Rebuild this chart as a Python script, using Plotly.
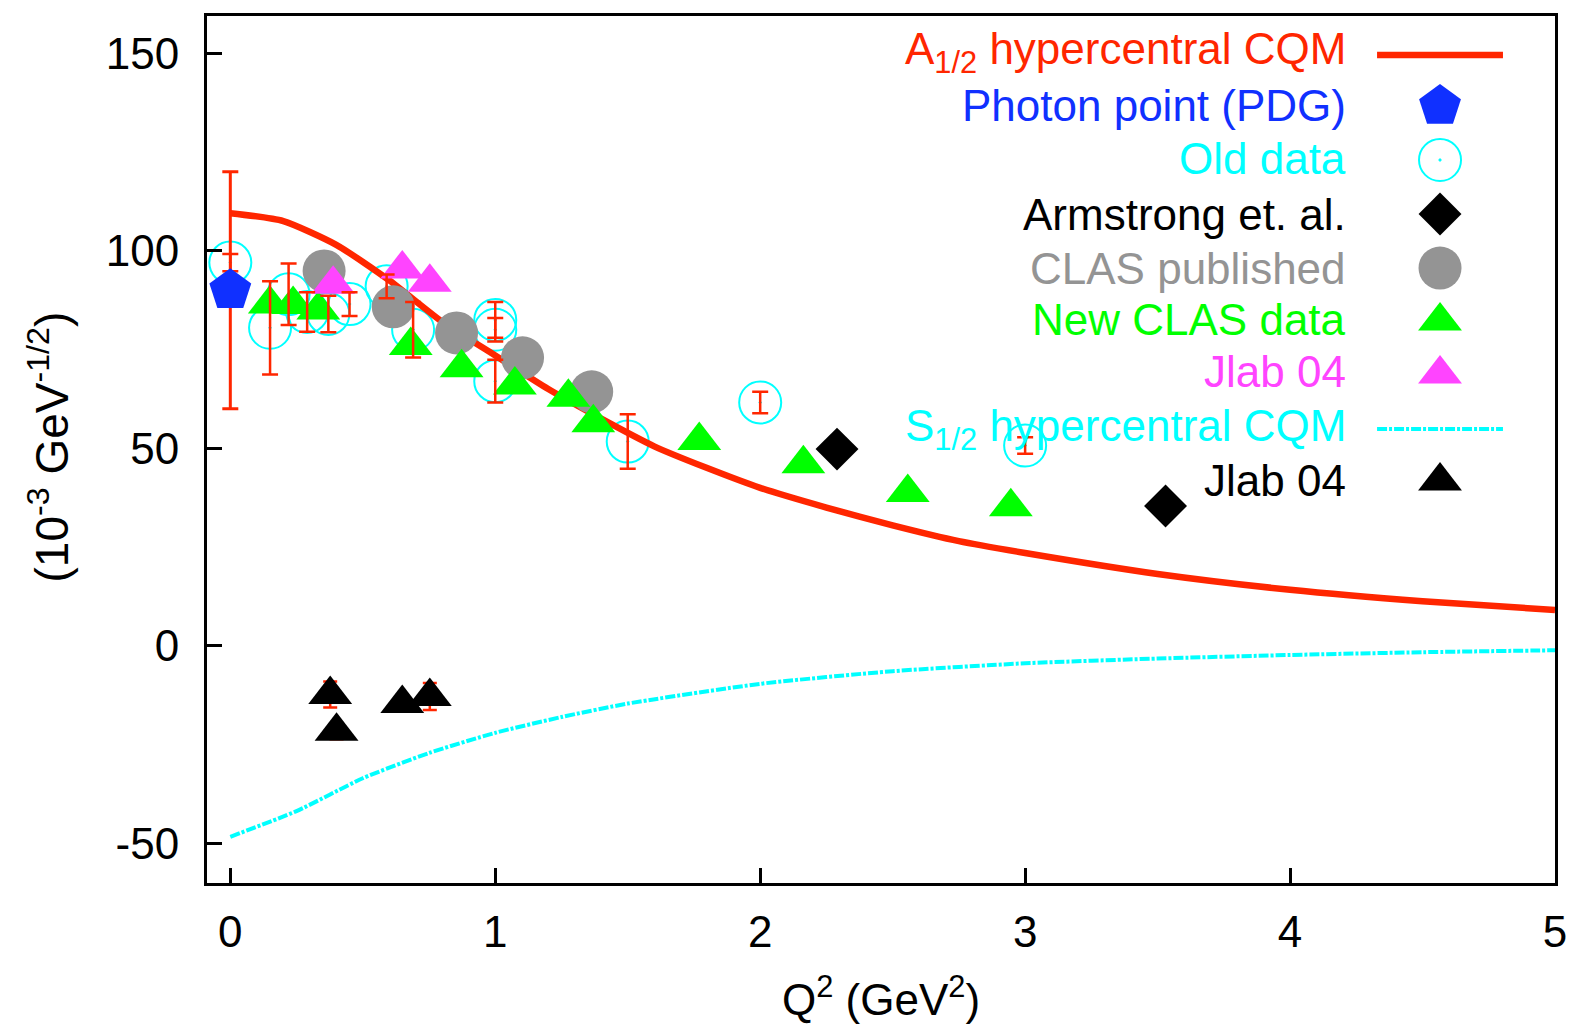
import plotly.graph_objects as go

# ---------------- data ----------------
# A1/2 hypercentral CQM prediction
A12_Q2 = [0.0, 0.2, 0.4, 0.6, 0.8, 1.0, 1.2, 1.4, 1.6, 1.8, 2.0, 2.25, 2.5, 2.75, 3.0, 3.5, 4.0, 4.5, 5.0]
A12 = [109.5, 107.5, 101.5, 92.5, 82.0, 73.5, 65.0, 57.5, 50.5, 45.0, 40.0, 35.0, 30.5, 26.5, 23.5, 18.2, 14.2, 11.3, 9.1]

# S1/2 hypercentral CQM prediction
S12_Q2 = [0.0, 0.25, 0.5, 0.75, 1.0, 1.25, 1.5, 2.0, 2.5, 3.0, 3.5, 4.0, 4.5, 5.0]
S12 = [-48.3, -41.8, -33.5, -27.1, -22.0, -18.0, -14.6, -9.6, -6.4, -4.4, -3.2, -2.3, -1.6, -1.1]

# Photon point (PDG)
PDG_Q2 = [0.0]
PDG = [90.0]
PDG_ERR = [30.0]

# Old data
OLD_Q2 = [0.0, 0.15, 0.22, 0.29, 0.37, 0.45, 0.59, 0.69, 1.0, 1.0, 1.0, 1.5, 2.0, 3.0]
OLD = [97.0, 80.5, 89.0, 84.5, 84.0, 86.5, 91.0, 80.0, 82.5, 80.0, 67.0, 51.7, 61.6, 50.7]
OLD_ERR = [2.2, 11.8, 7.8, 5.0, 4.6, 3.0, 3.0, 7.0, 4.5, 3.0, 5.4, 6.9, 2.7, 2.1]

# Armstrong et. al.
ARM_Q2 = [2.29, 3.53]
ARM = [49.8, 35.4]

# CLAS published
CLASP_Q2 = [0.354, 0.615, 0.854, 1.103, 1.364]
CLASP = [94.9, 85.8, 79.2, 72.9, 64.3]

# New CLAS data
CLASN_Q2 = [0.149, 0.237, 0.332, 0.681, 0.873, 1.074, 1.276, 1.37, 1.77, 2.163, 2.557, 2.946]
CLASN = [86.5, 86.4, 85.0, 76.0, 70.4, 66.0, 62.9, 56.5, 52.0, 46.1, 38.8, 35.2]

# Jlab 04 (A1/2)
JLA_Q2 = [0.388, 0.649, 0.753]
JLA = [91.5, 95.4, 92.0]

# Jlab 04 (S1/2)
JLS_Q2 = [0.377, 0.401, 0.649, 0.753]
JLS = [-12.3, -21.6, -14.6, -12.8]
JLS_ERR = [3.3, 2.0, 2.0, 3.4]

# axis ticks
X_TICKS = [0, 1, 2, 3, 4, 5]
X_TICK_TEXT = ["0", "1", "2", "3", "4", "5"]
Y_TICKS = [-50, 0, 50, 100, 150]
Y_TICK_TEXT = ["-50", "0", "50", "100", "150"]

# ---------------- style ----------------
FONT = "Liberation Sans, Arial, Helvetica, sans-serif"
RED = "#ff2600"
BLUE = "#1030ff"
CYAN = "#00ffff"
GRAY = "#949494"
GREEN = "#00ff00"
MAGENTA = "#ff44ff"
BLACK = "#000000"
FS = 44

fig = go.Figure()

fig.add_trace(go.Scatter(
    x=OLD_Q2, y=OLD, mode="markers",
    marker=dict(symbol="circle-open-dot", size=42, color=CYAN, line=dict(width=2, color=CYAN)),
))
fig.add_trace(go.Scatter(
    x=A12_Q2, y=A12, mode="lines", line=dict(color=RED, width=6.5, shape="spline", smoothing=0.6),
))
fig.add_trace(go.Scatter(
    x=S12_Q2, y=S12, mode="lines",
    line=dict(color=CYAN, width=4, dash="10px,2px,3px,2px", shape="spline", smoothing=0.6),
))
fig.add_trace(go.Scatter(
    x=ARM_Q2, y=ARM, mode="markers", marker=dict(symbol="diamond", size=33, color=BLACK),
))
fig.add_trace(go.Scatter(
    x=CLASP_Q2, y=CLASP, mode="markers", marker=dict(symbol="circle", size=43, color=GRAY),
))
fig.add_trace(go.Scatter(
    x=CLASN_Q2, y=CLASN, mode="markers", marker=dict(symbol="triangle-up", size=38, color=GREEN),
))
fig.add_trace(go.Scatter(
    x=JLA_Q2, y=JLA, mode="markers", marker=dict(symbol="triangle-up", size=38, color=MAGENTA),
))
fig.add_trace(go.Scatter(
    x=JLS_Q2, y=JLS, mode="markers", marker=dict(symbol="triangle-up", size=38, color=BLACK),
    error_y=dict(type="data", array=JLS_ERR, color=RED, thickness=2.5, width=7),
))
# error bars of the old data, drawn over every marker
fig.add_trace(go.Scatter(
    x=OLD_Q2, y=OLD, mode="markers", marker=dict(size=1, color="rgba(0,0,0,0)"),
    error_y=dict(type="data", array=OLD_ERR, color=RED, thickness=2.5, width=8),
))
fig.add_trace(go.Scatter(
    x=PDG_Q2, y=PDG, mode="markers", marker=dict(symbol="pentagon", size=44, color=BLUE),
    error_y=dict(type="data", array=PDG_ERR, color=RED, thickness=3, width=8),
))

# ---------------- key (text right-aligned, sample on the right) ----------------
KEY_TEXT_X = 0.8464
KEY_SYM_X = 0.9147
KEY_LINE_X = (0.868, 0.9614)
KEY_ROWS = [
    # label, colour, text y, sample kind, sample y
    ("A<sub>1/2</sub> hypercentral CQM", RED, 0.958, "line", 0.955),
    ("Photon point (PDG)", BLUE, 0.8962, "pentagon", 0.8962),
    ("Old data", CYAN, 0.8351, "circle-open-dot", 0.8339),
    ("Armstrong et. al.", BLACK, 0.7705, "diamond", 0.7716),
    ("CLAS published", GRAY, 0.7093, "circle", 0.7093),
    ("New CLAS data", GREEN, 0.6494, "triangle-up", 0.6482),
    ("Jlab 04", MAGENTA, 0.5894, "triangle-up", 0.5871),
    ("S<sub>1/2</sub> hypercentral CQM", CYAN, 0.5236, "dashline", 0.5236),
    ("Jlab 04", BLACK, 0.4648, "triangle-up", 0.4637),
]
SYM_SIZE = {"pentagon": 44, "circle-open-dot": 42, "diamond": 33, "circle": 43, "triangle-up": 38}

annotations = []
for label, col, ty, kind, sy in KEY_ROWS:
    annotations.append(dict(
        text=label, x=KEY_TEXT_X, y=ty, xref="paper", yref="paper",
        xanchor="right", yanchor="middle", showarrow=False,
        font=dict(family=FONT, size=FS, color=col),
    ))
    if kind == "line":
        fig.add_trace(go.Scatter(
            x=list(KEY_LINE_X), y=[sy, sy], xaxis="x2", yaxis="y2", mode="lines",
            line=dict(color=col, width=6.5), cliponaxis=False,
        ))
    elif kind == "dashline":
        fig.add_trace(go.Scatter(
            x=list(KEY_LINE_X), y=[sy, sy], xaxis="x2", yaxis="y2", mode="lines",
            line=dict(color=col, width=4, dash="10px,2px,3px,2px"), cliponaxis=False,
        ))
    else:
        mk = dict(symbol=kind, size=SYM_SIZE[kind], color=col)
        if kind == "circle-open-dot":
            mk["line"] = dict(width=2, color=col)
        fig.add_trace(go.Scatter(
            x=[KEY_SYM_X], y=[sy], xaxis="x2", yaxis="y2", mode="markers",
            marker=mk, cliponaxis=False,
        ))

# axis titles
annotations.append(dict(
    text="Q<sup>2</sup> (GeV<sup>2</sup>)", x=0.5, y=-0.131, xref="paper", yref="paper",
    xanchor="center", yanchor="middle", showarrow=False,
    font=dict(family=FONT, size=FS, color=BLACK),
))
annotations.append(dict(
    text="(10<sup>-3</sup> GeV<sup>-1/2</sup>)", x=-0.1175, y=0.503, xref="paper", yref="paper",
    xanchor="center", yanchor="middle", showarrow=False, textangle=-90,
    font=dict(family=FONT, size=46, color=BLACK),
))

axis_common = dict(
    ticks="inside", ticklen=15, tickwidth=3, tickcolor=BLACK,
    showline=True, linewidth=3, linecolor=BLACK, mirror=True,
    showgrid=False, zeroline=False, automargin=False,
    tickfont=dict(family=FONT, size=FS, color=BLACK),
)

fig.update_layout(
    width=1570, height=1025,
    margin=dict(l=207, r=15, t=16, b=142, autoexpand=False),
    paper_bgcolor="white", plot_bgcolor="white",
    showlegend=False,
    font=dict(family=FONT, size=FS, color=BLACK),
    xaxis=dict(range=[-0.088, 5.0], tickvals=X_TICKS, ticktext=X_TICK_TEXT,
               ticklabelstandoff=8, **axis_common),
    yaxis=dict(range=[-60.0, 159.4], tickvals=Y_TICKS, ticktext=Y_TICK_TEXT,
               ticklabelstandoff=16, **axis_common),
    xaxis2=dict(domain=[0, 1], range=[0, 1], overlaying="x", anchor="y2", visible=False, fixedrange=True),
    yaxis2=dict(domain=[0, 1], range=[0, 1], overlaying="y", anchor="x2", visible=False, fixedrange=True),
    annotations=annotations,
)

fig.write_html("out.html")
